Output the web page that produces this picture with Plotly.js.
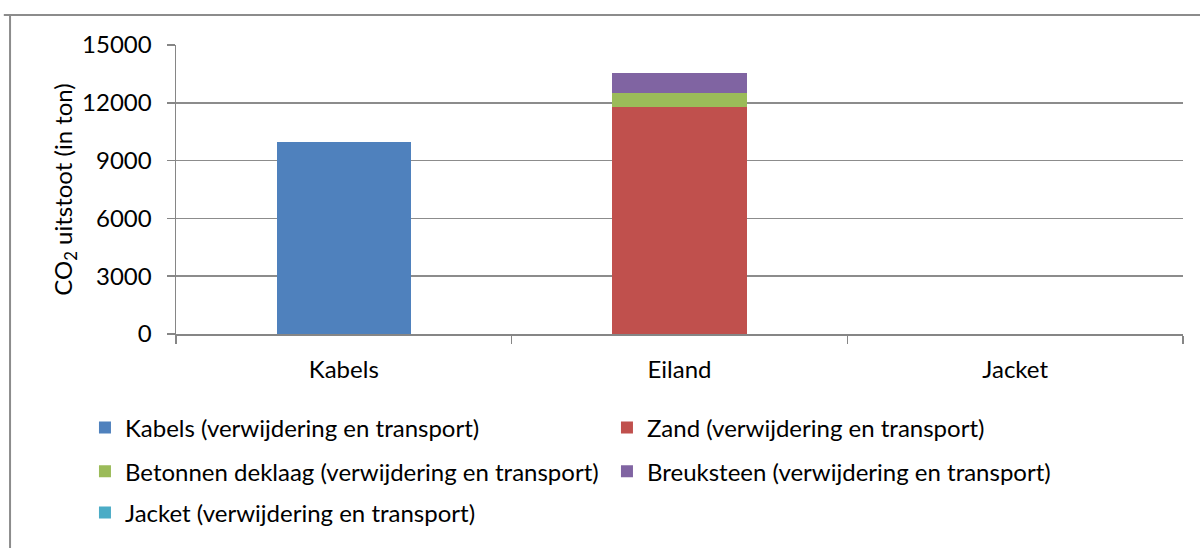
<!DOCTYPE html>
<html><head><meta charset="utf-8">
<script src="https://cdn.plot.ly/plotly-3.0.1.min.js"></script>
<style>body{margin:0;background:#fff}#c{width:1200px;height:548px}</style>
</head><body><div id="c"></div>
<script>
const categories = ["Kabels", "Eiland", "Jacket"];
const seriesNames = [
  "Kabels (verwijdering en transport)",
  "Zand (verwijdering en transport)",
  "Betonnen deklaag (verwijdering en transport)",
  "Breuksteen (verwijdering en transport)",
  "Jacket (verwijdering en transport)"
];
const kabels = [9950, 0, 0];
const zand = [0, 11780, 0];
const betonnen = [0, 730, 0];
const breuksteen = [0, 1040, 0];
const jacket = [0, 0, 0];
const yTicks = [0, 3000, 6000, 9000, 12000, 15000];

const colors = ["#4F81BD", "#C0504D", "#9BBB59", "#8064A2", "#4BACC6"];
const values = [kabels, zand, betonnen, breuksteen, jacket];
const legendIds = ["legend", "legend", "legend2", "legend2", "legend3"];

const font = "Lato, 'Open Sans', sans-serif";
const fs = 24;
const traces = values.map((v, i) => ({
  type: "bar", x: categories, y: v, name: seriesNames[i],
  marker: {color: colors[i], line: {width: 0}},
  legend: legendIds[i], hoverinfo: "none"
}));

const legBase = {orientation: "h", xref: "paper", yref: "paper", x: -0.0904, xanchor: "left", yanchor: "middle",
  font: {family: font, size: fs, color: "#000"}, entrywidth: 477, bgcolor: "rgba(0,0,0,0)", traceorder: "normal"};

const layout = {
  width: 1200, height: 548,
  margin: {l: 176, r: 17, t: 45, b: 214, autoexpand: false},
  paper_bgcolor: "#fff", plot_bgcolor: "#fff",
  barmode: "stack", bargap: 0.6,
  font: {family: font, size: fs, color: "#000"},
  xaxis: {type: "category", showline: true, linecolor: "#868686", linewidth: 1.5,
    ticks: "outside", tickson: "boundaries", ticklen: 8, tickcolor: "#868686", tickwidth: 1.5,
    showgrid: false, tickfont: {family: font, size: fs}, ticklabelstandoff: 14},
  yaxis: {range: [0, 15000], tickvals: yTicks, ticktext: yTicks.map(String),
    showline: true, linecolor: "#868686", linewidth: 1.5, ticks: "outside", ticklen: 8,
    tickcolor: "#868686", tickwidth: 1.5, showgrid: true, gridcolor: "#8c8c8c", gridwidth: 1.5,
    zeroline: false, tickfont: {family: font, size: fs}, ticklabelstandoff: 10,
    title: {text: "CO<sub>2</sub> uitstoot (in ton)", font: {family: font, size: fs}, standoff: 2}},
  showlegend: true,
  legend: Object.assign({}, legBase, {y: -0.325}),
  legend2: Object.assign({}, legBase, {y: -0.4765}),
  legend3: Object.assign({}, legBase, {y: -0.619}),
  shapes: [
    {type: "line", xref: "paper", yref: "paper", x0: -0.171, x1: 1.02, y0: 1.104, y1: 1.104, line: {color: "#8c8c8c", width: 2}},
    {type: "line", xref: "paper", yref: "paper", x0: -0.1648, x1: -0.1648, y0: 1.104, y1: -0.75, line: {color: "#8c8c8c", width: 2}}
  ]
};
Plotly.newPlot("c", traces, layout, {displayModeBar: false, staticPlot: true});
</script></body></html>
